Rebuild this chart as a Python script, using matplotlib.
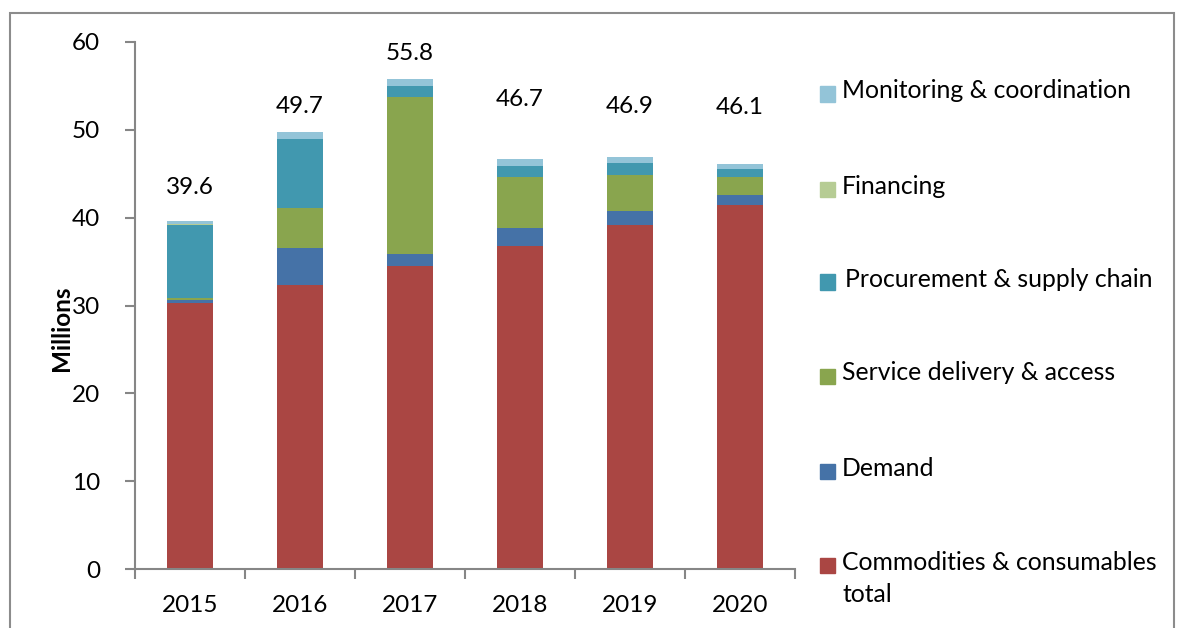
import matplotlib.pyplot as plt
from matplotlib.patches import Rectangle

plt.rcParams['font.family'] = ['Lato', 'DejaVu Sans']

# values (millions)
years = ["2015", "2016", "2017", "2018", "2019", "2020"]
commodities = [30.25, 32.3, 34.5, 36.8, 39.15, 41.45]
demand = [0.4, 4.25, 1.4, 2.05, 1.6, 1.15]
service = [0.15, 4.5, 17.85, 5.8, 4.1, 2.05]
procurement = [8.4, 7.85, 1.25, 1.25, 1.35, 0.9]
financing = [0.1, 0.1, 0.0, 0.0, 0.0, 0.0]
monitoring = [0.3, 0.7, 0.8, 0.8, 0.7, 0.55]
totals = ["39.6", "49.7", "55.8", "46.7", "46.9", "46.1"]
# heights where the total labels sit
label_y = [43.4, 52.6, 58.7, 53.4, 52.7, 52.5]

series = [
    ("Commodities & consumables\ntotal", commodities, "#AA4643"),
    ("Demand", demand, "#4572A7"),
    ("Service delivery & access", service, "#89A54E"),
    ("Procurement & supply chain", procurement, "#4198AF"),
    ("Financing", financing, "#B6CC94"),
    ("Monitoring & coordination", monitoring, "#93C4D8"),
]

W, H = 1185, 628
fig = plt.figure(figsize=(W / 100, H / 100), dpi=100)
ax = fig.add_axes([135 / W, 1 - 569 / H, 660 / W, 527 / H])

x = list(range(len(years)))
bottom = [0.0] * len(years)
for name, vals, col in series:
    ax.bar(x, vals, width=0.41, bottom=bottom, color=col, linewidth=0)
    bottom = [b + v for b, v in zip(bottom, vals)]

for i, t in enumerate(totals):
    ax.text(i, label_y[i], t, ha="center", va="center", fontsize=17.5)

ax.set_xlim(-0.5, 5.5)
ax.set_ylim(0, 60)
ax.set_yticks(range(0, 61, 10))
ax.set_xticks(x)
ax.set_xticklabels(years)
ax.set_xticks([i - 0.5 for i in range(len(years) + 1)], minor=True)
ax.tick_params(axis="x", which="major", length=0, pad=19, labelsize=17.5)
ax.tick_params(axis="x", which="minor", length=7, direction="out", color="#868686", width=1.5)
ax.tick_params(axis="y", length=7, direction="out", color="#868686", width=1.5, pad=18, labelsize=17.5)
for s in ["top", "right"]:
    ax.spines[s].set_visible(False)
for s in ["left", "bottom"]:
    ax.spines[s].set_color("#868686")
    ax.spines[s].set_linewidth(1.5)

fig.text(62 / W, 1 - 328 / H, "Millions", rotation=90, ha="center", va="center",
         fontsize=17.5, fontweight="bold")

# legend drawn by hand, top entry first
leg_y = [94, 189, 282, 376, 471, 565]
leg_x = [842, 842, 845, 842, 842, 842]
for (name, vals, col), yy, xx in zip(series[::-1], leg_y, leg_x):
    fig.patches.append(Rectangle((820 / W, 1 - (yy + 7.5) / H), 15 / W, 15 / H,
                                 transform=fig.transFigure, color=col))
    first, *rest = name.split("\n")
    fig.text(xx / W, 1 - (yy - 3) / H, first, ha="left", va="center", fontsize=17.8)
    for k, line in enumerate(rest):
        fig.text(xx / W, 1 - (yy - 3 + 32 * (k + 1)) / H, line, ha="left", va="center", fontsize=17.8)

# outer chart frame
fig.patches.append(Rectangle((10 / W, -0.05), 1164 / W, 1 - 13 / H + 0.05,
                             transform=fig.transFigure, fill=False,
                             edgecolor="#8C8C8C", linewidth=1.5))

fig.savefig("out.png", dpi=100)
